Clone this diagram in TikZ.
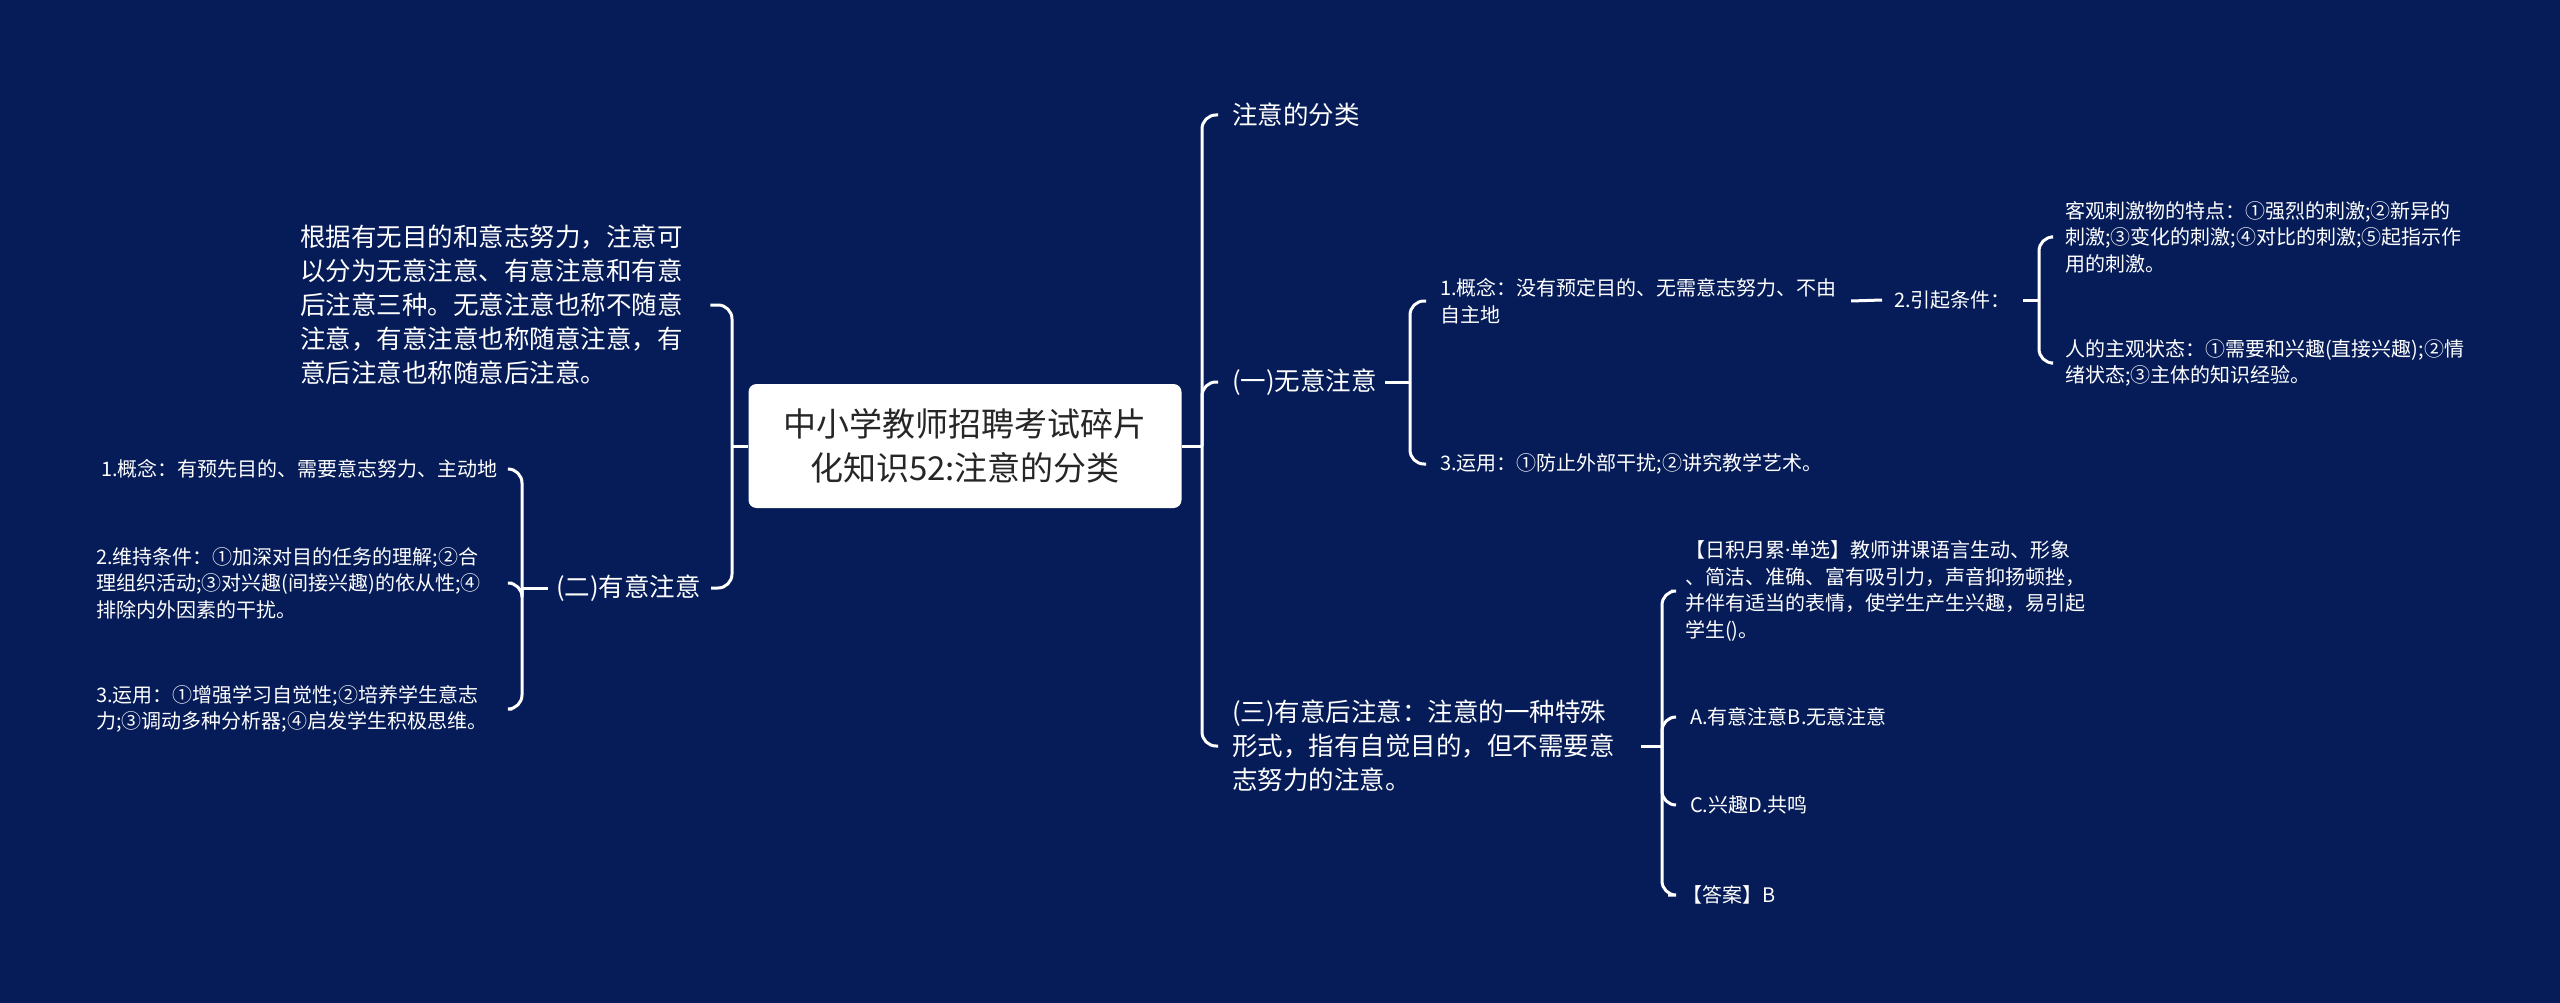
\documentclass[tikz,border=0pt]{standalone}
\usepackage{fontspec}
\setmainfont{Noto Sans CJK SC}
\newfontfamily\latinfont{Noto Sans}
\definecolor{bg}{RGB}{6,28,88}
\definecolor{roottxt}{RGB}{38,38,38}
\tikzset{
  conn/.style={draw=white, line width=3pt, rounded corners=14pt},
  big/.style={font=\fontsize{25.5}{34}\selectfont, text=white, inner sep=0pt, align=left},
  small/.style={font=\fontsize{20}{26.5}\selectfont, text=white, inner sep=0pt, align=left},
  rootbox/.style={fill=white, rounded corners=8pt, minimum width=433pt, minimum height=124pt,
    align=center, font=\fontsize{33}{44}\selectfont, text=roottxt, inner sep=0pt}
}
\begin{document}
\begin{tikzpicture}[x=1pt,y=-1pt]
\fill[bg] (0,0) rectangle (2560,1003);
\useasboundingbox (0,0) rectangle (2560,1003);

% root
\node[rootbox] (root) at (965,446) {中小学教师招聘考试碎片\\化知识52:注意的分类};

% right side
\node[big, anchor=west] (A1) at (1232,115) {注意的分类};
\node[big, anchor=west] (A2) at (1232,382) {(一)无意注意};
\node[big, anchor=west] (A3) at (1232,746) {(三)有意后注意：注意的一种特殊\\形式，指有自觉目的，但不需要意\\志努力的注意。};

\node[small, anchor=west] (B1) at (1440,301) {1.概念：没有预定目的、无需意志努力、不由\\自主地};
\node[small, anchor=west] (B3) at (1440,464) {3.运用：①防止外部干扰;②讲究教学艺术。};
\node[small, anchor=west] (C2) at (1894,300) {2.引起条件：};
\node[small, anchor=west] (D1) at (2065,237) {客观刺激物的特点：①强烈的刺激;②新异的\\刺激;③变化的刺激;④对比的刺激;⑤起指示作\\用的刺激。};
\node[small, anchor=west] (D2) at (2065,363) {人的主观状态：①需要和兴趣(直接兴趣);②情\\绪状态;③主体的知识经验。};

\node[small, anchor=west] (E1) at (1685,591) {【日积月累{\latinfont ·}单选】教师讲课语言生动、形象\\、简洁、准确、富有吸引力，声音抑扬顿挫，\\并伴有适当的表情，使学生产生兴趣，易引起\\学生()。};
\node[small, anchor=west] (E2) at (1690,717) {A.有意注意B.无意注意};
\node[small, anchor=west] (E3) at (1690,805) {C.兴趣D.共鸣};
\node[small, anchor=west] (E4) at (1682,895) {【答案】B};

% left side
\node[big, anchor=west, text width=398pt] (P) at (300,305) {根据有无目的和意志努力，注意可\\以分为无意注意、有意注意和有意\\后注意三种。无意注意也称不随意\\注意，有意注意也称随意注意，有\\意后注意也称随意后注意。};
\node[big, anchor=east] (M2) at (701,588) {(二)有意注意};
\node[small, anchor=east] (L1) at (498,469) {1.概念：有预先目的、需要意志努力、主动地};
\node[small, anchor=west, text width=404pt] (L2) at (96,583) {2.维持条件：①加深对目的任务的理解;②合\\理组织活动;③对兴趣(间接兴趣)的依从性;④\\排除内外因素的干扰。};
\node[small, anchor=west, text width=404pt] (L3) at (96,709) {3.运用：①增强学习自觉性;②培养学生意志\\力;③调动多种分析器;④启发学生积极思维。};

% junctions
\coordinate (jR) at (1202,0 |- root.east);
\coordinate (j1) at (1410,0 |- A2.east);
\coordinate (j2) at (2039,0 |- C2.east);
\coordinate (j3) at (1662,0 |- A3.east);
\coordinate (jL) at (732,0 |- root.west);
\coordinate (jM) at (522,0 |- M2.west);

% right connectors
\draw[conn] (root.east) -- (jR);
\draw[conn] (jR) |- ([xshift=-14pt]A1.west);
\draw[conn] (jR) |- ([xshift=-14pt]A2.west);
\draw[conn] (jR) |- ([xshift=-14pt]A3.west);

\draw[conn] ([xshift=8pt]A2.east) -- (j1);
\draw[conn] (j1) |- ([xshift=-14pt]B1.west);
\draw[conn] (j1) |- ([xshift=-14pt]B3.west);

\draw[conn] ([xshift=14pt]B1.east) -- ([xshift=-12pt]C2.west);
\draw[conn] ([xshift=12pt]C2.east) -- (j2);
\draw[conn] (j2) |- ([xshift=-14pt]D1.west);
\draw[conn] (j2) |- ([xshift=-14pt]D2.west);

\draw[conn] ([xshift=26pt]A3.east) -- (j3);
\draw[conn] (j3) |- ([xshift=-14pt]E1.west);
\draw[conn] (j3) |- ([xshift=-14pt]E2.west);
\draw[conn] (j3) |- ([xshift=-14pt]E3.west);
\draw[conn] (j3) |- ([xshift=-14pt]E4.west);

% left connectors
\draw[conn] (root.west) -- (jL);
\draw[conn] (jL) |- ([xshift=12pt]P.east);
\draw[conn] (jL) |- ([xshift=10pt]M2.east);
\draw[conn] ([xshift=-8pt]M2.west) -- (jM);
\draw[conn] (jM) |- ([xshift=12pt]L1.east);
\draw[conn] (jM) |- ([xshift=12pt]L2.east);
\draw[conn] (jM) |- ([xshift=12pt]L3.east);
\end{tikzpicture}
\end{document}
